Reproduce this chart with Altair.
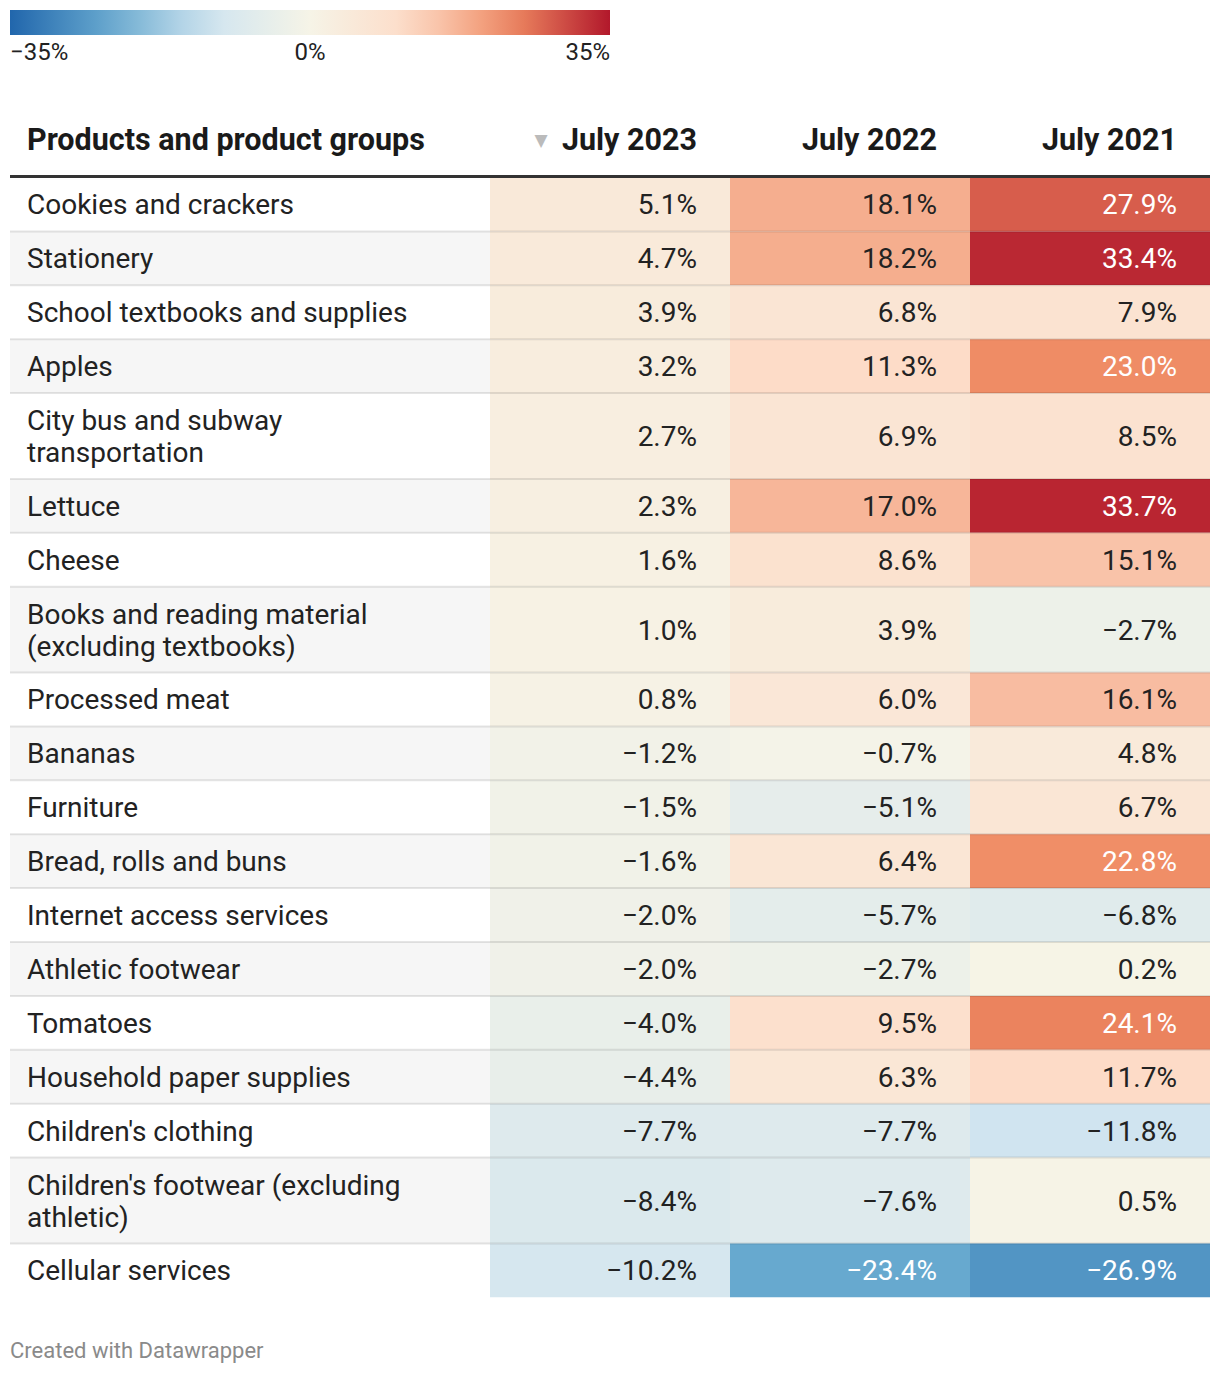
import altair as alt
import pandas as pd

# ---------------- data ----------------
products = [
    "Cookies and crackers",
    "Stationery",
    "School textbooks and supplies",
    "Apples",
    "City bus and subway\ntransportation",
    "Lettuce",
    "Cheese",
    "Books and reading material\n(excluding textbooks)",
    "Processed meat",
    "Bananas",
    "Furniture",
    "Bread, rolls and buns",
    "Internet access services",
    "Athletic footwear",
    "Tomatoes",
    "Household paper supplies",
    "Children's clothing",
    "Children's footwear (excluding\nathletic)",
    "Cellular services",
]
jul2023 = [5.1, 4.7, 3.9, 3.2, 2.7, 2.3, 1.6, 1.0, 0.8, -1.2, -1.5, -1.6, -2.0, -2.0, -4.0, -4.4, -7.7, -8.4, -10.2]
jul2022 = [18.1, 18.2, 6.8, 11.3, 6.9, 17.0, 8.6, 3.9, 6.0, -0.7, -5.1, 6.4, -5.7, -2.7, 9.5, 6.3, -7.7, -7.6, -23.4]
jul2021 = [27.9, 33.4, 7.9, 23.0, 8.5, 33.7, 15.1, -2.7, 16.1, 4.8, 6.7, 22.8, -6.8, 0.2, 24.1, 11.7, -11.8, 0.5, -26.9]
columns = ["July 2023", "July 2022", "July 2021"]
first_header = "Products and product groups"
legend_values = [-0.35, 0, 0.35]
footer_text = "Created with Datawrapper"

# ---------------- layout ----------------
W, H = 1204, 1358
OX, OY = 8, 8
LEFT, RIGHT = 10, 1210
EDGES = [490, 730, 970, 1210]
TOP = 177.5
SINGLE, DOUBLE = 53.9, 85.8
PAD_R = 33
LINE_H = 32
FONT = "Roboto"

rows = []
y = TOP
for i, p in enumerate(products):
    n = p.count("\n") + 1
    h = DOUBLE if n > 1 else SINGLE
    rows.append(dict(label=p.replace("\n", "|"), idx=i, odd=i % 2, y0=y, y1=y + h, yc=y + h / 2,
                     yt=y + h / 2 - (n - 1) * LINE_H / 2, x0=LEFT, x1=EDGES[0], xl=27))
    y += h
rows_df = pd.DataFrame(rows)

cells = []
for i, p in enumerate(products):
    for j, vals in enumerate([jul2023, jul2022, jul2021]):
        cells.append(dict(product=p, column=columns[j], value=vals[i] / 100,
                          x0=EDGES[j], x1=EDGES[j + 1], xt=EDGES[j + 1] - PAD_R,
                          y0=rows[i]["y0"], y1=rows[i]["y1"], yc=rows[i]["yc"]))
cells_df = pd.DataFrame(cells)

sep_df = pd.DataFrame([dict(x0=LEFT, x1=RIGHT, y=r["y1"]) for r in rows[:-1]])

hdr_left_df = pd.DataFrame([dict(t=first_header, x=27)])
hdr_right_df = pd.DataFrame([dict(t=c, x=EDGES[j + 1] - PAD_R) for j, c in enumerate(columns)])

xs = alt.Scale(domain=[OX, OX + W], nice=False, zero=False)
ys = alt.Scale(domain=[OY, OY + H], reverse=True, nice=False, zero=False)


def X(f):
    return alt.X(f, type="quantitative", scale=xs, axis=None)


def Y(f):
    return alt.Y(f, type="quantitative", scale=ys, axis=None)


m = 0.35
color_scale = alt.Scale(
    domain=[-m, -2 * m / 3, -m / 3, 0, m / 3, 2 * m / 3, m],
    range=["#2166ac", "#67a9cf", "#d1e5f0", "#f6f4e7", "#fddbc7", "#ef8a62", "#b2182b"],
    interpolate="rgb",
)

stripes = alt.Chart(rows_df).transform_filter("datum.odd == 1").mark_rect(color="#f6f6f6").encode(
    x=X("x0"), x2="x1", y=Y("y0"), y2="y1"
)

cell_rects = alt.Chart(cells_df).mark_rect().encode(
    x=X("x0"), x2="x1", y=Y("y0"), y2="y1",
    color=alt.Color("value:Q", scale=color_scale, legend=alt.Legend(
        orient="none", legendX=2, legendY=2, direction="horizontal",
        gradientLength=600, gradientThickness=25, title=None,
        values=legend_values, format=".0%", labelFont=FONT, labelFontSize=24,
        labelColor="#222222", labelOffset=6, gradientStrokeWidth=0, padding=0,
    )),
)

seps = alt.Chart(sep_df).mark_rule(color="#000000", opacity=0.1, strokeWidth=2).encode(
    x=X("x0"), x2="x1", y=Y("y")
)

head_rule = alt.Chart(pd.DataFrame([dict(x0=LEFT, x1=RIGHT, y=176.5)])).mark_rule(
    color="#333333", strokeWidth=3
).encode(x=X("x0"), x2="x1", y=Y("y"))

row_labels = alt.Chart(rows_df).transform_calculate(
    lines="split(datum.label, '|')"
).mark_text(align="left", baseline="middle", font=FONT, fontSize=28, color="#222222",
            lineHeight=LINE_H, dy=2).encode(
    x=X("xl"), y=Y("yt"), text="lines:N"
)

value_text = alt.Chart(cells_df).mark_text(
    align="right", baseline="middle", font=FONT, fontSize=28, dy=2
).encode(
    x=X("xt"), y=Y("yc"),
    text=alt.Text("value:Q", format=".1%"),
    color=alt.condition("abs(datum.value) > 0.2", alt.value("#ffffff"), alt.value("#222222")),
)

hdr_style = dict(baseline="middle", font=FONT, fontSize=30.5, fontWeight="bold", color="#1a1a1a")
headers_left = alt.Chart(hdr_left_df).mark_text(align="left", **hdr_style).encode(
    x=X("x"), y=alt.value(141 - OY), text="t:N"
)
headers_right = alt.Chart(hdr_right_df).mark_text(align="right", **hdr_style).encode(
    x=X("x"), y=alt.value(141 - OY), text="t:N"
)

arrow = alt.Chart(pd.DataFrame([dict(t="▼", x=541)])).mark_text(
    baseline="middle", align="center", font="DejaVu Sans", fontSize=17, color="#bbbbbb"
).encode(x=X("x"), y=alt.value(141 - OY), text="t:N")

footer = alt.Chart(pd.DataFrame([dict(t=footer_text, x=10)])).mark_text(
    align="left", baseline="middle", font=FONT, fontSize=22, color="#8a8a8a"
).encode(x=X("x"), y=alt.value(1351 - OY), text="t:N")

chart = alt.layer(
    stripes, cell_rects, seps, head_rule, row_labels, value_text,
    headers_left, headers_right, arrow, footer
).properties(width=W, height=H, padding=0, background="white").configure_view(stroke=None)

chart.save("out.html", embed_options={"renderer": "svg", "actions": False})
